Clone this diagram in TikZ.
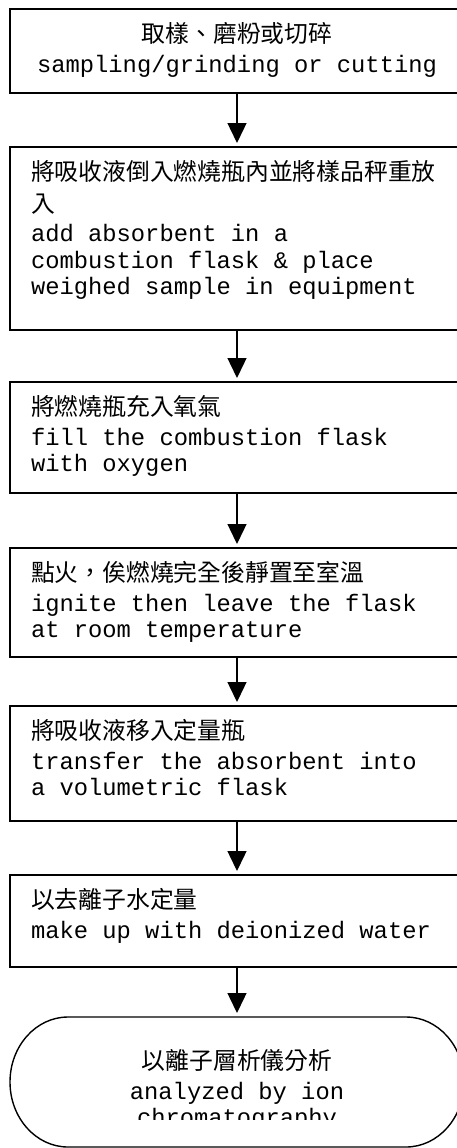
\documentclass[tikz,border=0pt]{standalone}
\usepackage{fontspec}
\setmonofont{Liberation Mono}
\newfontfamily\cjk{Noto Sans CJK TC}
\usetikzlibrary{positioning,arrows.meta}
\newcommand\monosetup{\fontsize{23.8}{26.5}\selectfont\ttfamily}
\newcommand\monospaces{\spaceskip=0.6em\relax}

\begin{document}
\begin{tikzpicture}[x=1pt,y=1pt,node distance=52pt]
\tikzstyle{stepbox}=[draw,rectangle,line width=1.6pt,inner xsep=21pt,inner ysep=0pt,outer sep=0pt,text width=412pt,align=left,text height=33.5pt,font=\monosetup,execute at begin node=\monospaces]
\tikzstyle{termbox}=[rectangle,inner sep=0pt,outer sep=0pt,minimum width=454pt,minimum height=130pt]
\tikzstyle{termtext}=[inner sep=0pt,text width=412pt,align=center,font=\monosetup,execute at begin node=\monospaces]
\tikzstyle{flow}=[line width=1.4pt,-{Triangle[width=19pt,length=20pt]},shorten >=4pt]
\useasboundingbox (0,0) rectangle (457,-1148);
\clip (0,0) rectangle (457,-1148);
\node [stepbox,align=center,text depth=50.5pt] (b1) at (237,-51) {{\cjk 取樣、磨粉或切碎}\\[3pt]sampling/grinding or cutting};
\node [stepbox,text depth=149.5pt,below=54pt of b1] (b2) {{\cjk 將吸收液倒入燃燒瓶內並將樣品秤重放}\\[5pt]{\cjk 入}\\[3pt]add absorbent in a\\combustion flask \& place\\weighed sample in equipment};
\node [stepbox,text depth=77.5pt,below=52pt of b2] (b3) {{\cjk 將燃燒瓶充入氧氣}\\[3pt]fill the combustion flask\\with oxygen};
\node [stepbox,text depth=75.5pt,below=55pt of b3] (b4) {{\cjk 點火，俟燃燒完全後靜置至室溫}\\[3pt]ignite then leave the flask\\at room temperature};
\node [stepbox,text depth=81.5pt,below=49pt of b4] (b5) {{\cjk 將吸收液移入定量瓶}\\[3pt]transfer the absorbent into\\a volumetric flask};
\node [stepbox,text depth=58.5pt,below=54pt of b5] (b6) {{\cjk 以去離子水定量}\\[3pt]make up with deionized water};
\node [termbox,below=50pt of b6] (t) {};
\draw[line width=1.4pt] ([xshift=58pt]t.north west) -- ([xshift=-58pt]t.north east)
    arc[start angle=90,end angle=-90,x radius=58pt,y radius=65pt]
    -- ([xshift=58pt]t.south west)
    arc[start angle=270,end angle=90,x radius=58pt,y radius=65pt] -- cycle;
\begin{scope}
\clip (t.north west) rectangle ([yshift=28pt]t.south east);
\node [termtext,anchor=base] (tl) at ([yshift=-52.5pt]t.north) {{\cjk 以離子層析儀分析}\\[3pt]analyzed by ion\\chromatography};
\end{scope}
\path[flow]
    (b1) edge (b2)
    (b2) edge (b3)
    (b3) edge (b4)
    (b4) edge (b5)
    (b5) edge (b6)
    (b6) edge (t);
\end{tikzpicture}
\end{document}
